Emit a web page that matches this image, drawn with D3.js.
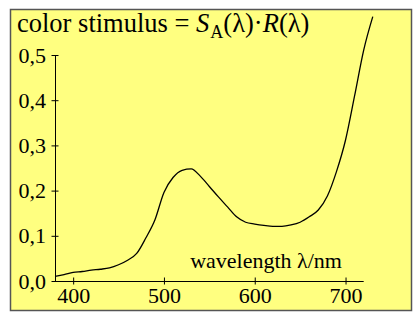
<!DOCTYPE html>
<html>
<head>
<meta charset="utf-8">
<script src="https://cdn.jsdelivr.net/npm/d3@7"></script>
<style>
  body { margin: 0; background: #fff; }
  svg text { font-family: "Liberation Serif", "Times New Roman", serif; fill: #000; }
</style>
</head>
<body>
<div id="chart"></div>
<script>
// wavelength in nm, color stimulus S_A * R
const wavelengths = [380, 390, 400, 410, 420, 430, 440, 450, 460, 470, 480, 490, 500, 510, 520, 530, 540, 550, 560,
  570, 580, 590, 600, 610, 620, 630, 640, 650, 660, 670, 680, 690, 700, 710, 720, 730];
const stimulus = [0.010, 0.014, 0.019, 0.021, 0.024, 0.026, 0.029, 0.036, 0.046, 0.061, 0.095, 0.135, 0.196, 0.229,
  0.245, 0.248, 0.232, 0.209, 0.186, 0.164, 0.142, 0.130, 0.126, 0.123, 0.121, 0.121, 0.124, 0.130, 0.142,
  0.157, 0.188, 0.242, 0.312, 0.410, 0.511, 0.585];
const xTicks = [400, 500, 600, 700];
const yTicks = [0, 0.1, 0.2, 0.3, 0.4, 0.5];

const width = 413, height = 315;

let svg = d3.select("#chart").append("svg")
    .attr("width", width)
    .attr("height", height);

// yellow panel
svg.append("rect")
    .attr("x", 10.5).attr("y", 9.5)
    .attr("width", 401).attr("height", 301)
    .attr("fill", "#ffff80")
    .attr("stroke", "#555")
    .attr("stroke-width", 1.5);

let x = d3.scaleLinear().domain([380, 720]).range([55, 363.7]);
let y = d3.scaleLinear().domain([0, 0.5]).range([281, 55]);

let commaFmt = d => d3.format(".1f")(d).replace(".", ",");

// x axis
let gx = svg.append("g")
    .attr("transform", "translate(0,281)")
    .call(d3.axisBottom(x).tickValues(xTicks).tickSize(0).tickSizeOuter(0).tickPadding(0));
gx.select(".domain").attr("d", "M52," + 0.5 + "H" + x(720)).attr("stroke", "#000");
gx.selectAll(".tick line").attr("y1", -3.5).attr("y2", 3.5).attr("stroke", "#000");
gx.selectAll(".tick text")
    .attr("y", 22).attr("dy", null)
    .style("font-size", "22px");

// y axis
let gy = svg.append("g")
    .attr("transform", "translate(55,0)")
    .call(d3.axisLeft(y).tickValues(yTicks).tickFormat(commaFmt).tickSize(0).tickSizeOuter(0).tickPadding(0));
gy.select(".domain").attr("d", "M0.5," + y(0) + "V" + y(0.5)).attr("stroke", "#000");
gy.selectAll(".tick line").attr("x1", -3.5).attr("x2", 3.5).attr("stroke", "#000");
gy.selectAll(".tick text")
    .attr("x", -9).attr("dy", "7")
    .style("font-size", "22px");
svg.selectAll(".tick text").attr("font-family", null);

// curve
let line = d3.line()
    .x((d, i) => x(wavelengths[i]))
    .y(d => y(d))
    .curve(d3.curveMonotoneX);

svg.append("path")
    .datum(stimulus)
    .attr("d", line)
    .attr("fill", "none")
    .attr("stroke", "#000")
    .attr("stroke-width", 1.3);

// title
let title = svg.append("text")
    .attr("x", 17).attr("y", 32)
    .style("font-size", "26.5px");
title.append("tspan").text("color stimulus = ");
title.append("tspan").style("font-style", "italic").text("S");
title.append("tspan").attr("dx", 1).attr("dy", 6).style("font-size", "18px").text("A");
title.append("tspan").attr("dy", -6).text("(λ)·");
title.append("tspan").style("font-style", "italic").text("R");
title.append("tspan").text("(λ)");

// axis label
svg.append("text")
    .attr("x", 342).attr("y", 268)
    .attr("text-anchor", "end")
    .style("font-size", "22px")
    .text("wavelength λ/nm");
</script>
</body>
</html>
